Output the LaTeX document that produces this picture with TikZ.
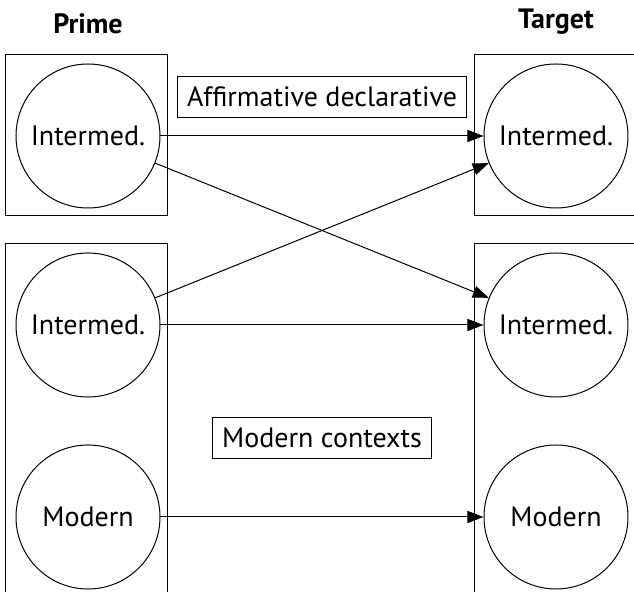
\documentclass[tikz,border=0pt]{standalone}
\usepackage{fontspec}
\setmainfont{PT Sans}
\usetikzlibrary{arrows.meta}

\begin{document}
\begin{tikzpicture}[x=0.5pt,y=-0.5pt,line width=0.5pt,
        font=\fontsize{14}{16}\selectfont,
        >={Triangle[length=8pt,width=6pt]}]
        \useasboundingbox (0,0) rectangle (634,592);
        \clip (0,0) rectangle (634,592);

        \node (prime) at (88,24) {\bfseries Prime};
        \node (target) at (556,22) {\bfseries Target};

        \begin{scope}[every node/.style={rectangle,draw,inner sep=0pt,
                        minimum width=81pt}]
            \node (primeA) at (87,135.5) [minimum height=80.5pt]{};
            \node (primeB) at (87,432) [minimum height=188pt]{};
            \node (targetA) at (556,135.5) [minimum height=80.5pt]{};
            \node (targetB) at (556,432) [minimum height=188pt]{};
        \end{scope}

        \begin{scope}[every node/.style={circle,draw,inner sep=0pt,
                        minimum size=72pt}]
            \node (pint1) at (88,136) {Intermed.};
            \node (pint2) at (88,325) {Intermed.};
            \node (pmod) at (88,517) {Modern};
            \node (tint1) at (556,136) {Intermed.};
            \node (tint2) at (556,325) {Intermed.};
            \node (tmod) at (556,517) {Modern};
        \end{scope}

        \begin{scope}[every node/.style={rectangle,draw,inner xsep=5pt,
                        inner ysep=0pt,minimum height=20.5pt}]
            \node (affirm) at (322,97) {Affirmative declarative};
            \node (modern) at (322,438) {Modern contexts};
        \end{scope}

        \draw[->] (pint1) -- (tint1);
        \draw[->] (pint1) -- (tint2);
        \draw[->] (pint2) -- (tint1);
        \draw[->] (pint2) -- (tint2);
        \draw[->] (pmod) -- (tmod);
    \end{tikzpicture}
\end{document}
